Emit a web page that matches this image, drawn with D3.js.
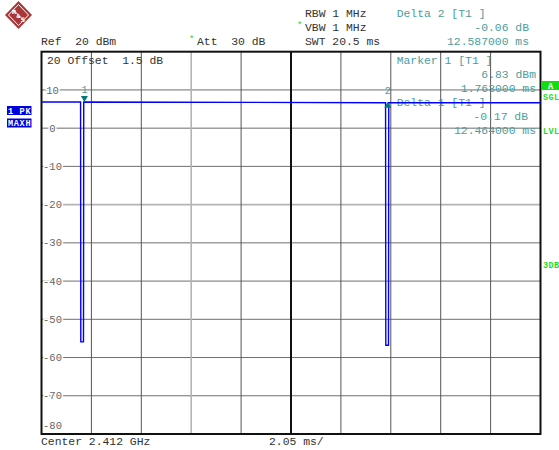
<!DOCTYPE html>
<html>
<head>
<meta charset="utf-8">
<script src="https://cdn.jsdelivr.net/npm/d3@7"></script>
<style>
  html, body { margin: 0; padding: 0; background: #fff; }
  svg { display: block; }
  text { font-family: "Liberation Mono", "DejaVu Sans Mono", monospace; white-space: pre; }
</style>
</head>
<body>
<svg id="chart" width="559" height="450"></svg>
<script>
// Sweep settings (zero span, time domain)
const sweepTimeMs = 20.5;
const levelTicks = [10, 0, -10, -20, -30, -40, -50, -60, -70];
const levelTickLabels = ["10", "0", "-10", "-20", "-30", "-40", "-50", "-60", "-70"];
const timeDivisions = d3.range(0, 11).map(i => i * 2.05);

// Trace 1 (PK, MAXH): time in ms, level in dBm
const traceTime  = [0, 1.605, 1.615, 1.725, 1.735, 14.135, 14.145, 14.255, 14.265, 20.5];
const traceLevel = [6.83, 6.83, -55.9, -55.9, 6.83, 6.66, -56.8, -56.8, 6.66, 6.66];

// Markers: time (ms), level (dBm), label
const markerTime  = [1.763, 14.227];
const markerLevel = [6.83, 6.66];
const markerName  = ["1", "2"];

// Header and marker readouts
const headerLeft  = ["Ref  20 dBm"];
const headerMid   = ["RBW 1 MHz", "VBW 1 MHz", "SWT 20.5 ms"];
const deltaHeader = ["Delta 2 [T1 ]", "-0.06 dB", "12.587000 ms"];
const markerBlock = ["Marker 1 [T1 ]", "6.83 dBm", "1.763000 ms", "Delta 1 [T1 ]", "-0.17 dB", "12.464000 ms"];

const svg = d3.select("#chart");
const plot = { left: 41.5, right: 540.5, top: 51.7, bottom: 434 };

const x = d3.scaleLinear().domain([0, sweepTimeMs]).range([plot.left, plot.right]);
const y = d3.scaleLinear().domain([-80, 20]).range([plot.bottom, plot.top]);

const fs = "11.4px";
const teal = "#4a9e9e";
const ink = "#333";

// ---- R&S logo ----
const logo = svg.append("g").attr("transform", "translate(18.5,15)");
logo.append("path").attr("d", "M0,-14 L13.5,0 L0,14 L-13.5,0 Z").attr("fill", "#a83838");
logo.append("path").attr("d", "M0,-10.5 L10,0 L0,10.5 L-10,0 Z").attr("fill", "none").attr("stroke", "#fff").attr("stroke-width", 1);
logo.append("path").attr("d", "M-5,-5 L5,5").attr("stroke", "#fff").attr("stroke-width", 1);
logo.append("text").attr("x", -4.5).attr("y", -1).attr("text-anchor", "middle").attr("fill", "#fff")
  .style("font-family", "DejaVu Sans").style("font-size", "6px").style("font-weight", "bold").text("R");
logo.append("text").attr("x", 4.5).attr("y", 7).attr("text-anchor", "middle").attr("fill", "#fff")
  .style("font-family", "DejaVu Sans").style("font-size", "6px").style("font-weight", "bold").text("S");
logo.append("text").attr("x", 0).attr("y", 2.5).attr("text-anchor", "middle").attr("fill", "#fff")
  .style("font-family", "DejaVu Sans").style("font-size", "5px").style("font-weight", "bold").text("&");

// ---- header text ----
svg.append("text").attr("x", 41).attr("y", 44.5).attr("fill", ink).style("font-size", fs).text(headerLeft[0]);
svg.append("text").attr("x", 189).attr("y", 42).attr("fill", "#22cc22").style("font-size", "9px").text("*");
svg.append("text").attr("x", 197).attr("y", 44.5).attr("fill", ink).style("font-size", fs).text("Att  30 dB");

headerMid.forEach((t, i) => {
  svg.append("text").attr("x", 305).attr("y", 16.7 + i * 14).attr("fill", ink).style("font-size", fs).text(t);
});
svg.append("text").attr("x", 297).attr("y", 28).attr("fill", "#22cc22").style("font-size", "9px").text("*");

svg.append("text").attr("x", 396.7).attr("y", 16.7).attr("fill", teal).style("font-size", fs).text(deltaHeader[0]);
svg.append("text").attr("x", 529).attr("y", 30.7).attr("text-anchor", "end").attr("fill", teal).style("font-size", fs).text(deltaHeader[1]);
svg.append("text").attr("x", 529).attr("y", 44.7).attr("text-anchor", "end").attr("fill", teal).style("font-size", fs).text(deltaHeader[2]);

// ---- grid ----
const grid = svg.append("g");
levelTicks.forEach(v => {
  const light = v === -20;
  grid.append("line")
    .attr("x1", plot.left).attr("x2", plot.right)
    .attr("y1", y(v)).attr("y2", y(v))
    .attr("stroke", light ? "#b4b4b4" : "#6e6e6e")
    .attr("stroke-width", light ? 1.6 : 1);
});
timeDivisions.slice(1, -1).forEach((t, i) => {
  const idx = i + 1;
  const center = idx === 5;
  const light = idx === 3;
  grid.append("line")
    .attr("x1", x(t)).attr("x2", x(t))
    .attr("y1", plot.top).attr("y2", plot.bottom)
    .attr("stroke", center ? "#111" : (light ? "#b4b4b4" : "#555"))
    .attr("stroke-width", center ? 2 : (light ? 1.6 : 1));
});

// level labels
levelTicks.forEach((v, i) => {
  grid.append("text")
    .attr("x", 52.5).attr("y", y(v) + 3.6)
    .attr("text-anchor", "middle")
    .attr("fill", "#666")
    .attr("stroke", "#fff").attr("stroke-width", 3).style("paint-order", "stroke")
    .style("font-size", "10.5px")
    .text(levelTickLabels[i]);
});
grid.append("text").attr("x", 52.5).attr("y", 429).attr("text-anchor", "middle")
  .attr("fill", "#666").style("font-size", "10.5px").text("-80");
grid.append("text").attr("x", 47).attr("y", 63.5).attr("fill", ink).style("font-size", fs).text("20 Offset  1.5 dB");

// frame
svg.append("rect")
  .attr("x", plot.left).attr("y", plot.top)
  .attr("width", plot.right - plot.left).attr("height", plot.bottom - plot.top)
  .attr("fill", "none").attr("stroke", "#111").attr("stroke-width", 2);

// ---- marker readout block ----
const blockY = [63.5, 77.5, 91.5, 105.5, 119.5, 133.5];
const blockAnchor = ["start", "end", "end", "start", "end", "end"];
const blockX = [396.7, 536, 536, 396.7, 528, 536];
markerBlock.forEach((t, i) => {
  svg.append("text").attr("x", blockX[i]).attr("y", blockY[i])
    .attr("text-anchor", blockAnchor[i]).attr("fill", teal).style("font-size", fs).text(t);
});

// ---- trace ----
const tracePts = traceTime.map((t, i) => [t, traceLevel[i]]);
svg.append("path")
  .datum(tracePts)
  .attr("d", d3.line().x(d => x(d[0])).y(d => y(d[1])))
  .attr("fill", "none")
  .attr("stroke", "#0000ff")
  .attr("stroke-width", 1.4);

// ---- markers ----
markerTime.forEach((t, i) => {
  const mx = x(t), my = y(markerLevel[i]);
  if (i === 0) {
    svg.append("path").attr("d", `M${mx - 3.5},${my - 6} L${mx + 3.5},${my - 6} L${mx},${my} Z`).attr("fill", "#007a7a");
  } else {
    svg.append("path").attr("d", `M${mx - 3.5},${my + 5} L${mx + 3.5},${my + 5} L${mx},${my - 1} Z`).attr("fill", "#007a7a");
  }
  svg.append("text").attr("x", mx).attr("y", my - 9).attr("text-anchor", "middle")
    .attr("fill", teal).style("font-size", "10px").text(markerName[i]);
});

// ---- side annotations ----
const side = svg.append("g").style("font-family", "DejaVu Sans Mono").style("font-weight", "bold").style("font-size", "8.5px");
[["1 PK", 106], ["MAXH", 118.5]].forEach(([t, yy]) => {
  side.append("rect").attr("x", 7).attr("y", yy).attr("width", 24.5).attr("height", 9).attr("fill", "#0000dd");
  side.append("text").attr("x", 8).attr("y", yy + 7.5).attr("fill", "#fff").attr("textLength", 22.5).text(t);
});
side.append("rect").attr("x", 542).attr("y", 81).attr("width", 17).attr("height", 9).attr("fill", "#11dd11");
side.append("text").attr("x", 550.5).attr("y", 88.5).attr("text-anchor", "middle").attr("fill", "#fff").text("A");
[["SGL", 99.5], ["LVL", 134], ["3DB", 268]].forEach(([t, yy]) => {
  side.append("text").attr("x", 543).attr("y", yy).attr("fill", "#22dd22").attr("textLength", 16).text(t);
});

// ---- footer ----
svg.append("text").attr("x", 41).attr("y", 445).attr("fill", ink).style("font-size", fs).text("Center 2.412 GHz");
svg.append("text").attr("x", 269).attr("y", 445).attr("fill", ink).style("font-size", fs).text("2.05 ms/");
</script>
</body>
</html>
